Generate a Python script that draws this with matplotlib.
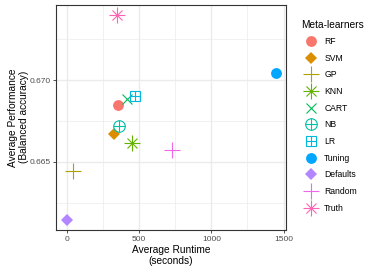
import matplotlib
matplotlib.use("Agg")
import matplotlib.pyplot as plt
from matplotlib.lines import Line2D
from matplotlib.legend_handler import HandlerTuple

plt.rcParams['font.family'] = ['Liberation Sans', 'DejaVu Sans']

learners = ["RF", "SVM", "GP", "KNN", "CART", "NB", "LR", "Tuning", "Defaults", "Random", "Truth"]
runtime = [356, 326, 45, 451, 414, 363, 472, 1445, 0, 727, 345]
perf = [0.66845, 0.66670, 0.66441, 0.66616, 0.66882, 0.66718, 0.66902, 0.67041, 0.66143, 0.66572, 0.67400]
colors = ["#F8766D", "#DB8E00", "#AEA200", "#64B200", "#00BD5C", "#00C1A7",
          "#00BADE", "#00A6FF", "#B385FF", "#EF67EB", "#FF63B6"]
shapes = ["circle", "diamond", "plus", "asterisk", "x", "circleplus", "squareplus",
          "circle", "diamond", "plus", "asterisk"]

x_ticks = [0, 500, 1000, 1500]
y_ticks = [0.665, 0.670]

fig = plt.figure(figsize=(3.82, 2.74), dpi=100)
ax = fig.add_axes([56/382, 1-230/274, 230/382, 225.3/274])

LW = 0.8
def marker_specs(shape, c):
    if shape == "circle":
        return [dict(marker='o', ms=7.8, mfc=c, mec=c, mew=0)]
    if shape == "diamond":
        return [dict(marker='D', ms=6.5, mfc=c, mec=c, mew=0)]
    if shape == "plus":
        return [dict(marker='+', ms=11, mec=c, mew=LW)]
    if shape == "x":
        return [dict(marker='x', ms=7.8, mec=c, mew=LW)]
    if shape == "asterisk":
        return [dict(marker='+', ms=11, mec=c, mew=LW),
                dict(marker='x', ms=7.8, mec=c, mew=LW)]
    if shape == "circleplus":
        return [dict(marker='o', ms=8.3, mfc='none', mec=c, mew=LW),
                dict(marker='+', ms=8.3, mec=c, mew=LW)]
    if shape == "squareplus":
        return [dict(marker='s', ms=7.8, mfc='none', mec=c, mew=LW),
                dict(marker='+', ms=7.8, mec=c, mew=LW)]

handles = []
for name, xv, yv, c, s in zip(learners, runtime, perf, colors, shapes):
    specs = marker_specs(s, c)
    hs = []
    for sp in specs:
        ax.plot([xv], [yv], linestyle='none', zorder=3, **sp)
        hs.append(Line2D([], [], linestyle='none', **sp))
    handles.append(tuple(hs))

ax.set_xlim(-76, 1517)
ax.set_ylim(0.66082, 0.67461)
ax.set_xticks(x_ticks)
ax.set_xticklabels([str(t) for t in x_ticks])
ax.set_yticks(y_ticks)
ax.set_yticklabels(["%.3f" % t for t in y_ticks])
ax.set_xticks([250, 750, 1250], minor=True)
ax.set_yticks([0.6625, 0.6675, 0.6725], minor=True)
ax.grid(True, which='major', color='#EBEBEB', lw=1.0, zorder=0)
ax.grid(True, which='minor', color='#EBEBEB', lw=0.5, zorder=0)
ax.set_axisbelow(True)
for sp in ax.spines.values():
    sp.set_color('#333333')
    sp.set_linewidth(0.8)
ax.tick_params(which='major', length=2.5, width=0.6, color='#333333',
               labelsize=6, labelcolor='#4D4D4D', pad=1.5)
ax.tick_params(which='minor', length=0)

ax.set_xlabel("Average Runtime\n(seconds)", fontsize=7.3, labelpad=2, linespacing=1.05)
ax.set_ylabel("Average Performance\n(Balanced accuracy)", fontsize=7.3, linespacing=1.15)
ax.yaxis.set_label_coords(-0.118, 0.5)

leg = fig.legend(handles, learners, handler_map={tuple: HandlerTuple(ndivide=1)},
                 loc='upper left', bbox_to_anchor=(301/382, 1-19.5/274),
                 title="Meta-learners", frameon=False, fontsize=6.2,
                 title_fontsize=7.3, labelspacing=0.89, handlelength=2.25,
                 handletextpad=0.45, borderaxespad=0, borderpad=0)
leg._legend_box.align = "left"

fig.savefig("out.png", dpi=100)
